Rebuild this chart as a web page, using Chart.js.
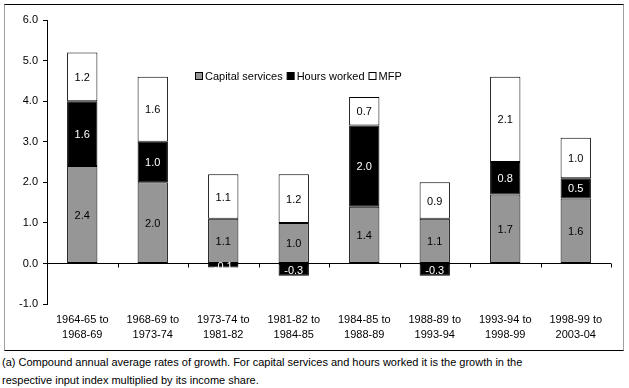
<!DOCTYPE html>
<html>
<head>
<meta charset="utf-8">
<script src="https://cdn.jsdelivr.net/npm/chart.js@4.4.0/dist/chart.umd.min.js"></script>
<style>
    body { margin: 0; background: #fff; font-family: "Liberation Sans", Arial, sans-serif; }
    #frame {
        position: absolute; left: 4px; top: 4px; width: 618px; height: 345px;
        border-top: 1px solid #000; border-bottom: 1px solid #000;
        border-left: 1px solid #a0a0a0; border-right: 1px solid #a0a0a0;
    }
    #note {
        position: absolute; left: 2px; top: 353px; font-size: 11px; line-height: 18px; color: #000;
    }
</style>
</head>
<body>
<div id="frame"><canvas id="chart" width="618" height="345"></canvas></div>
<div id="note">(a) Compound annual average rates of growth. For capital services and hours worked it is the growth in the<br>respective input index multiplied by its income share.</div>
<script>
// Growth accounting by productivity cycle
const periods = [
    ['1964-65 to', '1968-69'], ['1968-69 to', '1973-74'], ['1973-74 to', '1981-82'], ['1981-82 to', '1984-85'],
    ['1984-85 to', '1988-89'], ['1988-89 to', '1993-94'], ['1993-94 to', '1998-99'], ['1998-99 to', '2003-04']
];
const capitalServices = [2.4, 2.0, 1.1, 1.0, 1.4, 1.1, 1.7, 1.6];
const hoursWorked = [1.6, 1.0, -0.1, -0.3, 2.0, -0.3, 0.8, 0.5];
const mfp = [1.2, 1.6, 1.1, 1.2, 0.7, 0.9, 2.1, 1.0];
const yTicks = [-1, 0, 1, 2, 3, 4, 5, 6];

const FONT = '11px "Liberation Sans", Arial, sans-serif';

// zero line with category tick marks
const zeroAxis = {
    id: 'zeroAxis',
    afterDatasetsDraw(chart) {
        const { ctx, chartArea, scales } = chart;
        const y0 = Math.round(scales.y.getPixelForValue(0)) + 0.5;
        const step = (chartArea.right - chartArea.left) / periods.length;
        ctx.save();
        ctx.strokeStyle = '#000';
        ctx.lineWidth = 1;
        ctx.beginPath();
        ctx.moveTo(chartArea.left, y0);
        ctx.lineTo(chartArea.right, y0);
        for (let i = 0; i <= periods.length; i++) {
            const x = Math.round(chartArea.left + i * step) + 0.5;
            ctx.moveTo(x, y0);
            ctx.lineTo(x, y0 + 4);
        }
        ctx.stroke();
        ctx.restore();
    }
};

// value labels centred in each segment
const segmentLabels = {
    id: 'segmentLabels',
    afterDatasetsDraw(chart) {
        const { ctx } = chart;
        ctx.save();
        ctx.font = FONT;
        ctx.textAlign = 'center';
        ctx.textBaseline = 'middle';
        chart.data.datasets.forEach((ds, di) => {
            chart.getDatasetMeta(di).data.forEach((bar, i) => {
                ctx.fillStyle = ds.labelColor;
                ctx.fillText(ds.data[i].toFixed(1), bar.x, (bar.y + bar.base) / 2 + 1);
            });
        });
        ctx.restore();
    }
};

// legend drawn inside the plot area
const innerLegend = {
    id: 'innerLegend',
    afterDraw(chart) {
        const { ctx } = chart;
        let x = 190;
        const y = 71;
        ctx.save();
        ctx.font = FONT;
        ctx.textBaseline = 'middle';
        chart.data.datasets.forEach(ds => {
            ctx.fillStyle = ds.backgroundColor;
            ctx.fillRect(x + 0.5, y - 3.5, 7, 7);
            ctx.strokeStyle = '#000';
            ctx.strokeRect(x + 0.5, y - 3.5, 7, 7);
            ctx.fillStyle = '#000';
            ctx.fillText(ds.label, x + 10, y + 1);
            x += 10 + ctx.measureText(ds.label).width + 4;
        });
        ctx.restore();
    }
};

new Chart(document.getElementById('chart'), {
    type: 'bar',
    data: {
        labels: periods,
        datasets: [
            { label: 'Capital services', data: capitalServices, backgroundColor: '#969696', labelColor: '#000' },
            { label: 'Hours worked', data: hoursWorked, backgroundColor: '#000000', labelColor: '#fff' },
            { label: 'MFP', data: mfp, backgroundColor: '#ffffff', labelColor: '#000' }
        ].map(d => ({ ...d, borderColor: '#000', borderWidth: 1, borderSkipped: false,
                      barPercentage: 0.43, categoryPercentage: 1 }))
    },
    options: {
        responsive: false,
        animation: false,
        layout: { padding: { top: 15, right: 12, bottom: 0, left: 0 } },
        plugins: { legend: { display: false }, tooltip: { enabled: false } },
        scales: {
            x: {
                stacked: true,
                border: { display: false },
                grid: { display: false, drawTicks: false },
                ticks: { color: '#000', padding: 8, maxRotation: 0,
                         font: { family: '"Liberation Sans", Arial, sans-serif', size: 11, lineHeight: 1.36 } }
            },
            y: {
                stacked: true,
                min: -1,
                max: 6,
                afterBuildTicks: axis => { axis.ticks = yTicks.map(v => ({ value: v })); },
                afterFit: axis => { axis.width = 42; },
                border: { display: true, color: '#000' },
                grid: { drawOnChartArea: false, color: '#000', tickLength: 4 },
                ticks: { color: '#000', padding: 5, callback: v => v.toFixed(1),
                         font: { family: '"Liberation Sans", Arial, sans-serif', size: 11 } }
            }
        }
    },
    plugins: [zeroAxis, segmentLabels, innerLegend]
});
</script>
</body>
</html>
